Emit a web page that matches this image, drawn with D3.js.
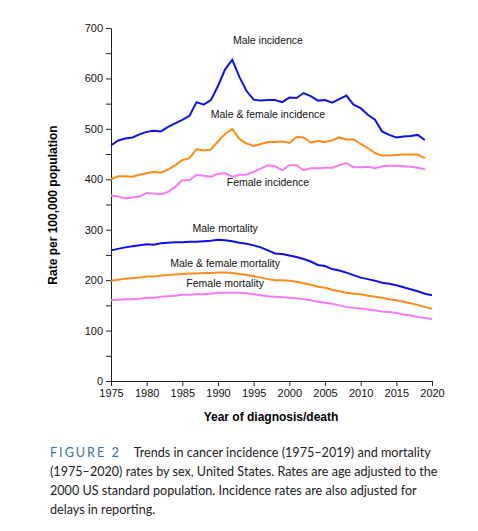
<!DOCTYPE html>
<html><head><meta charset="utf-8">
<script src="https://cdn.jsdelivr.net/npm/d3@7"></script>
<style>
body{margin:0;background:#fff;font-family:Arial,"Liberation Sans",sans-serif;}
.cap{position:absolute;left:50px;top:443px;width:395px;font-size:12.6px;line-height:19px;color:#222;font-family:Lato,"Liberation Sans",sans-serif;}
.fig{color:#3a6fb0;letter-spacing:2px;padding-right:10px;}
</style></head><body>
<svg id="canvas" width="478" height="440"></svg>
<div class="cap"><span class="fig">FIGURE 2</span> Trends in cancer incidence (1975–2019) and mortality (1975–2020) rates by sex, United States. Rates are age adjusted to the 2000 US standard population. Incidence rates are also adjusted for delays in reporting.</div>
<script>
// incidence 1975-2019, mortality 1975-2020
var incYears = d3.range(1975, 2020);
var morYears = d3.range(1975, 2021);

var maleInc = [467,477,481,483,489,494,496,495,504,511,518,526,553,548,557,585,618,637,603,575,558,556,557,557,553,562,561,571,565,556,557,552,559,566,548,541,528,518,495,488,483,485,486,488,478];
var bothInc = [400,406,406,405,409,412,415,413,419,428,438,442,460,457,459,475,490,500,480,471,466,470,474,474,475,472,484,483,473,476,474,477,483,479,479,470,462,452,447,447,448,449,449,449,442];
var femaleInc = [368,366,362,364,366,373,372,370,375,385,398,398,409,407,405,411,412,405,409,409,415,421,428,426,418,428,428,418,422,422,423,423,428,432,424,424,425,422,426,427,427,426,425,423,420];

var maleMor = [259,262,265,267,269,271,270,273,274,275,275,276,276,277,278,280,279,277,274,272,269,265,259,253,252,249,246,242,237,230,228,222,219,215,210,205,202,199,195,193,190,186,182,178,173,170];
var bothMor = [199,201,203,204,205,207,207,209,210,211,212,213,213,214,214,215,215,214,212,210,208,205,202,200,200,199,197,194,191,187,185,181,178,175,173,172,169,167,165,162,160,157,154,151,147,143];
var femaleMor = [160,161,162,162,163,165,165,167,168,169,171,171,172,172,173,175,175,175,175,174,172,170,168,167,166,165,164,162,160,157,155,153,150,147,145,144,142,140,138,137,135,132,130,127,125,123];

var series = [
	{ years: incYears, values: maleInc, color: "#1010ee" },
	{ years: incYears, values: bothInc, color: "#ff8c1a" },
	{ years: incYears, values: femaleInc, color: "#f77cf2" },
	{ years: morYears, values: maleMor, color: "#1010ee" },
	{ years: morYears, values: bothMor, color: "#ff8c1a" },
	{ years: morYears, values: femaleMor, color: "#f77cf2" }
];

var labels = [
	{ text: "Male incidence", year: 1997, value: 668 },
	{ text: "Male & female incidence", year: 1997, value: 522 },
	{ text: "Female incidence", year: 1997, value: 387 },
	{ text: "Male mortality", year: 1991, value: 296 },
	{ text: "Male & female mortality", year: 1991, value: 227 },
	{ text: "Female mortality", year: 1991, value: 186 }
];

var svg = d3.select("#canvas");
var x = d3.scaleLinear().domain([1975, 2020]).range([111, 432]);
var y = d3.scaleLinear().domain([0, 700]).range([381, 28]);

// axes
svg.append("g").attr("transform", "translate(0,381)")
	.call(d3.axisBottom(x).tickValues(d3.range(1975, 2021, 5)).tickFormat(d3.format("d")).tickSize(5).tickSizeOuter(0));
svg.append("g").attr("transform", "translate(111,0)")
	.call(d3.axisLeft(y).tickValues(d3.range(0, 701, 50)).tickFormat(d => d % 100 === 0 ? d : "").tickSize(5).tickSizeOuter(0));
svg.selectAll(".tick text").attr("font-size", 11).attr("fill", "#111").attr("font-family", "Arial,Liberation Sans,sans-serif");
svg.selectAll(".domain, .tick line").attr("stroke", "#222");

// lines
var line = d3.line().x(d => x(d[0])).y(d => y(d[1]));
svg.append("g").selectAll("path").data(series).join("path")
	.attr("d", s => line(s.years.map((yr, i) => [yr, s.values[i]])))
	.attr("fill", "none")
	.attr("stroke", s => s.color)
	.attr("stroke-width", 2);

// series labels
svg.append("g").selectAll("text").data(labels).join("text")
	.attr("x", d => x(d.year)).attr("y", d => y(d.value))
	.attr("text-anchor", "middle").attr("font-size", 10.5).attr("fill", "#111")
	.text(d => d.text);

// axis titles
svg.append("text").attr("x", 271).attr("y", 421).attr("text-anchor", "middle")
	.attr("font-size", 12).attr("font-weight", "bold").text("Year of diagnosis/death");
svg.append("text").attr("transform", "translate(57,205) rotate(-90)").attr("text-anchor", "middle")
	.attr("font-size", 12).attr("font-weight", "bold").text("Rate per 100,000 population");
</script>
</body></html>
